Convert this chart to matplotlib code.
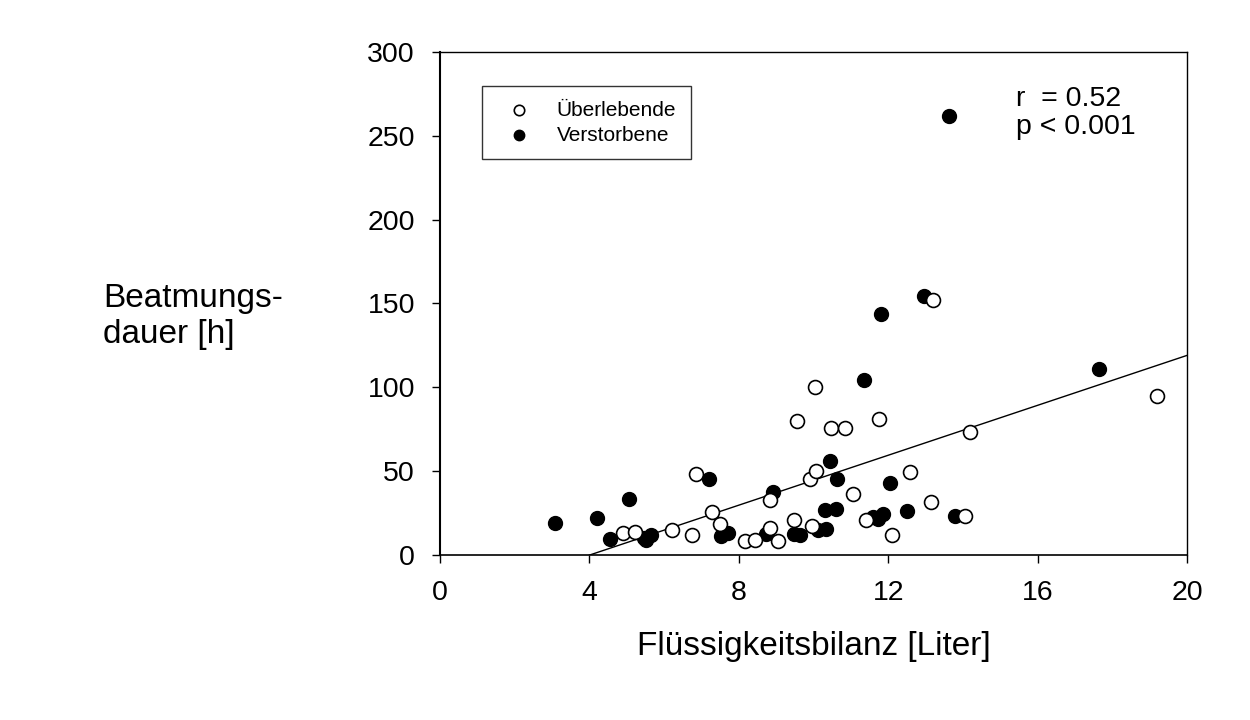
import matplotlib.pyplot as plt

plt.rcParams['font.family'] = ['Liberation Sans', 'DejaVu Sans']

# Überlebende (offene Kreise)
surv_x = [4.91, 5.22, 6.20, 6.74, 6.86, 7.27, 7.50, 8.16, 8.44, 8.84,
          9.04, 8.84, 9.56, 9.48, 9.90, 10.07, 9.97, 10.04, 10.46, 10.83,
          11.75, 11.05, 11.40, 12.09, 12.59, 13.14, 13.20, 14.06, 14.20, 19.20]
surv_y = [13.1, 14.0, 14.7, 12.1, 48.6, 25.5, 18.8, 8.5, 8.9, 16.1,
          8.7, 32.7, 80.0, 21.2, 45.6, 50.2, 17.5, 100.2, 75.6, 76.0,
          81.0, 36.5, 21.2, 12.1, 49.4, 31.5, 151.8, 23.2, 73.6, 94.6]

# Verstorbene (gefüllte Kreise)
dead_x = [3.09, 4.20, 5.05, 4.56, 5.47, 5.64, 5.52, 7.21, 7.52, 7.72,
          8.74, 8.91, 9.47, 9.64, 10.13, 10.34, 10.31, 10.60, 10.45, 10.62,
          11.36, 11.60, 11.73, 11.85, 11.80, 12.04, 12.51, 12.97, 13.63, 13.78,
          17.64]
dead_y = [19.3, 22.0, 33.3, 9.5, 10.5, 11.9, 8.8, 45.3, 11.3, 13.3,
          12.5, 37.5, 12.5, 11.9, 14.9, 15.3, 26.8, 27.2, 56.0, 45.4,
          104.2, 22.8, 21.8, 24.4, 143.8, 42.7, 26.2, 154.6, 261.7, 23.2,
          110.9]

# Regressionsgerade
fit_slope = 7.44
fit_intercept = -29.75
fit_x = [4.0, 20.0]

x_ticks = [0, 4, 8, 12, 16, 20]
y_ticks = [0, 50, 100, 150, 200, 250, 300]

fig = plt.figure(figsize=(12.5, 7.2), dpi=100)
ax = fig.add_axes([0.352, 0.229, 0.5976, 0.699])

ax.plot(fit_x, [fit_slope * v + fit_intercept for v in fit_x],
        color='black', lw=1.0, zorder=2)
ax.scatter(dead_x, dead_y, s=100, facecolor='black', edgecolor='black',
           linewidths=1.0, label='Verstorbene', zorder=3)
ax.scatter(surv_x, surv_y, s=100, facecolor='white', edgecolor='black',
           linewidths=1.2, label='Überlebende', zorder=4)

ax.set_xlim(0, 20)
ax.set_ylim(0, 300)
ax.set_xticks(x_ticks)
ax.set_yticks(y_ticks)
ax.tick_params(direction='out', length=6, width=1, labelsize=20.5, pad=12)

for side, lw in [('left', 1.5), ('bottom', 1.2), ('top', 1.0), ('right', 1.0)]:
    ax.spines[side].set_linewidth(lw)

ax.set_xlabel('Flüssigkeitsbilanz [Liter]', fontsize=24, labelpad=18)
ax.set_ylabel('Beatmungs-\ndauer [h]', fontsize=24, rotation=0,
              ha='left', va='center', linespacing=1.2)
ax.yaxis.set_label_coords(-0.451, 0.474)

ax.text(0.771, 0.878, 'r  = 0.52\np < 0.001', transform=ax.transAxes,
        fontsize=20.5, ha='left', va='center', linespacing=1.12)

handles, labels = ax.get_legend_handles_labels()
leg = ax.legend(handles[::-1], labels[::-1], loc='upper left',
                bbox_to_anchor=(0.056, 0.932), borderaxespad=0,
                fontsize=15, markerscale=0.75, frameon=True, fancybox=False,
                edgecolor='black', borderpad=0.7, handlelength=2.2,
                handletextpad=0.7, labelspacing=0.3)
leg.get_frame().set_linewidth(1.0)

fig.savefig('out.png', dpi=100, facecolor='white')
